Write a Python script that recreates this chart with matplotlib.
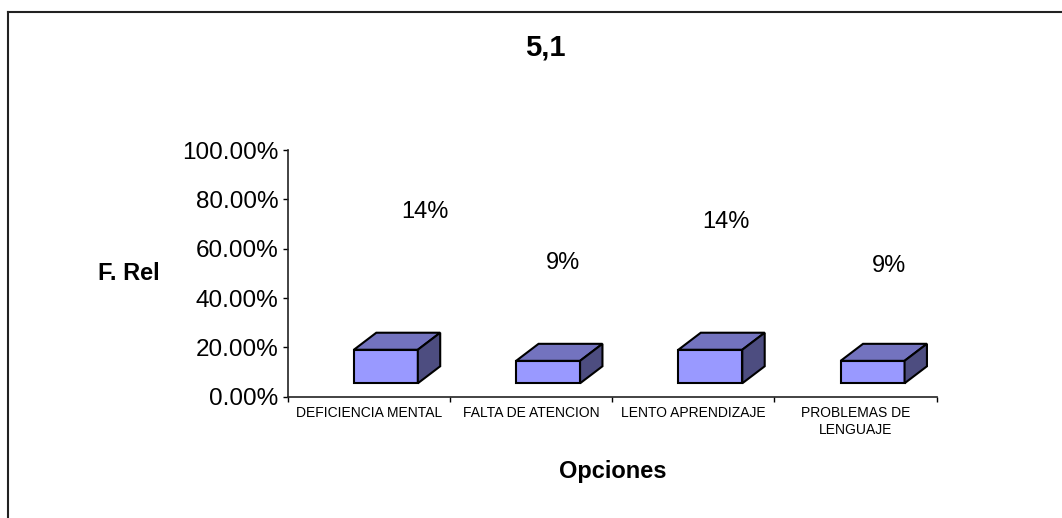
import numpy as np
import matplotlib
matplotlib.use('Agg')
import matplotlib.pyplot as plt
from matplotlib.patches import Polygon
from matplotlib.ticker import FuncFormatter
from matplotlib.lines import Line2D

# datos
opciones = ['DEFICIENCIA MENTAL', 'FALTA DE ATENCION', 'LENTO APRENDIZAJE', 'PROBLEMAS DE\nLENGUAJE']
f_rel = [13.6, 9.1, 13.6, 9.1]          # en %
etiquetas = ['14%', '9%', '14%', '9%']

# posicion de las etiquetas (Excel las deja flotando)
etiq_x = [0.345, 1.194, 2.20, 3.206]
etiq_y = [74.8, 54.3, 70.9, 53.1]

plt.rcParams['font.family'] = ['Liberation Sans', 'DejaVu Sans']

fig = plt.figure(figsize=(10.62, 5.18), dpi=100)
ax = fig.add_axes([0.2709, 0.2342, 0.6111, 0.4762])

# caja 3D a mano
base = 5.43
ancho = 0.394
dx, dy = 0.138, 6.9
frente_col = '#9999FF'
arriba_col = '#7373BF'
lado_col = '#4D4D80'

for i, v in enumerate(f_rel):
    x0 = i - 0.092
    x1 = x0 + ancho
    top = base + v
    frente = Polygon([(x0, base), (x1, base), (x1, top), (x0, top)], closed=True,
                     facecolor=frente_col, edgecolor='black', lw=1.5, zorder=3)
    arriba = Polygon([(x0, top), (x0 + dx, top + dy), (x1 + dx, top + dy), (x1, top)], closed=True,
                     facecolor=arriba_col, edgecolor='black', lw=1.5, zorder=3)
    lado = Polygon([(x1, base), (x1 + dx, base + dy), (x1 + dx, top + dy), (x1, top)], closed=True,
                   facecolor=lado_col, edgecolor='black', lw=1.5, zorder=3)
    for p in (frente, arriba, lado):
        ax.add_patch(p)
    ax.text(etiq_x[i], etiq_y[i], etiquetas[i], ha='center', va='center', fontsize=17)

ax.set_xlim(-0.5, len(opciones) - 0.5)
ax.set_ylim(0, 100)

ax.set_yticks(np.arange(0, 101, 20))
ax.yaxis.set_major_formatter(FuncFormatter(lambda v, p: '%.2f%%' % v))
ax.tick_params(axis='y', labelsize=17.5, length=3.6, width=1, pad=3.2, colors='black')

ax.set_xticks(np.arange(len(opciones)))
ax.set_xticklabels(opciones, fontsize=10, linespacing=1.3, va='top')
ax.tick_params(axis='x', which='major', length=0, pad=6.5)
ax.set_xticks(np.arange(len(opciones) + 1) - 0.5, minor=True)
ax.tick_params(axis='x', which='minor', length=3.6, width=1)

for s in ['top', 'right']:
    ax.spines[s].set_visible(False)
for s in ['left', 'bottom']:
    ax.spines[s].set_linewidth(1.2)
    ax.spines[s].set_color('#222222')

fig.text(545 / 1062, 1 - 55 / 518, '5,1', ha='center', va='baseline', fontsize=21, fontweight='bold')
fig.text(129 / 1062, 1 - 280 / 518, 'F. Rel', ha='center', va='baseline', fontsize=17, fontweight='bold')
fig.text(613 / 1062, 1 - 478 / 518, 'Opciones', ha='center', va='baseline', fontsize=17, fontweight='bold')

# borde del area del grafico
fig.add_artist(Line2D([8 / 1062, 8 / 1062], [0, 1 - 12 / 518], transform=fig.transFigure, color='#222222', lw=1.5))
fig.add_artist(Line2D([8 / 1062, 1], [1 - 12 / 518, 1 - 12 / 518], transform=fig.transFigure, color='#222222', lw=1.5))

fig.savefig('out.png', dpi=100)
